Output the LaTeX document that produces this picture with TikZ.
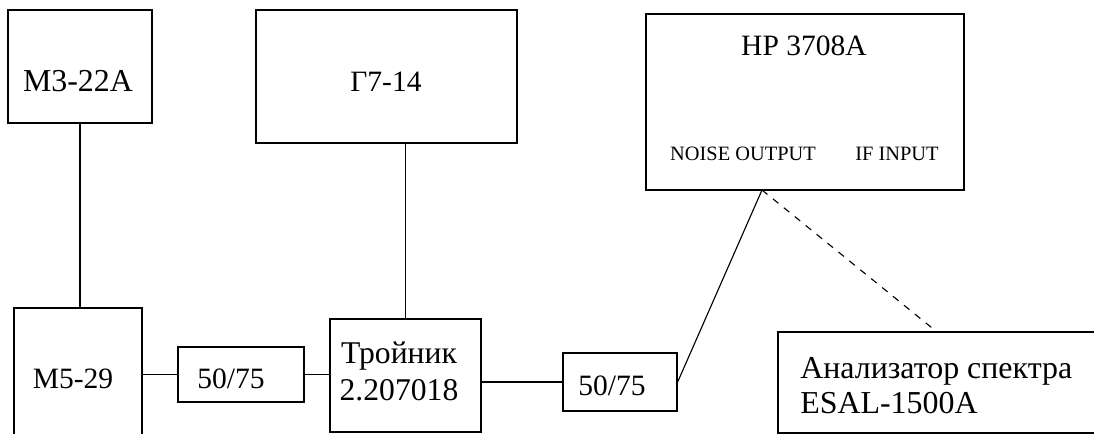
\documentclass[tikz,border=0pt]{standalone}
\usepackage{fontspec}
\setmainfont{Liberation Serif}
\usepackage{tikz}

\begin{document}
\begin{tikzpicture}[x=0.025cm,y=-0.025cm,
  box/.style={draw,line width=0.9pt,inner sep=0pt},
  big/.style={font=\fontsize{21}{26.3}\selectfont,inner sep=0pt},
  bigger/.style={font=\fontsize{22.7}{25.5}\selectfont,inner sep=0pt},
  small/.style={font=\fontsize{14.5}{17}\selectfont,inner sep=0pt}]
\useasboundingbox (0,0) rectangle (1094,434);
\clip (0,0) rectangle (1094,434);
% blocks
\node[box,minimum width=3.6cm,minimum height=2.825cm] (pm) at (80,66.5) {};
\node[box,minimum width=6.525cm,minimum height=3.325cm] (gen) at (386.5,76.5) {};
\node[box,minimum width=7.95cm,minimum height=4.4cm] (hp) at (805,102) {};
\node[box,minimum width=3.2cm,minimum height=3.8cm] (mount) at (78,384) {};
\node[box,minimum width=3.15cm,minimum height=1.375cm] (tr1) at (241,374.5) {};
\node[box,minimum width=3.775cm,minimum height=2.825cm] (tee) at (405.5,375.5) {};
\node[box,minimum width=2.85cm,minimum height=1.45cm] (tr2) at (620,382) {};
\node[box,minimum width=8.55cm,minimum height=2.525cm] (sa) at (949,382.5) {};
% labels
\node[bigger] (pmtext) at (78,81) {М3-22А};
\node[big] (gentext) at (386,82) {Г7-14};
\node[big] (hptext) at (804,46) {HP 3708A};
\node[small] (noise) at (743,154) {NOISE OUTPUT};
\node[small] (ifin) at (897,154) {IF INPUT};
\node[big] (mounttext) at (73,379) {М5-29};
\node[big] (tr1text) at (231,379) {50/75};
\node[bigger,align=center,font=\fontsize{22.5}{26.3}\selectfont] (teetext) at (399,371) {Тройник\\2.207018};
\node[big] (tr2text) at (612,386) {50/75};
\node[bigger,align=left,anchor=west,font=\fontsize{22.7}{25}\selectfont] (satext) at (800,386) {Анализатор спектра\\ESAL-1500A};
% connections
\coordinate (out) at (762,190);
\coordinate (sain) at (937,332);
\draw[line width=0.8pt] (pm.south) -- (pm.south |- mount.north);
\draw[line width=0.8pt] (tee.north) -- (tee.north |- gen.south);
\draw[line width=0.8pt] (tr1.west) -- (tr1.west -| mount.east);
\draw[line width=0.8pt] (tr1.east) -- (tr1.east -| tee.west);
\draw[line width=0.8pt] (tr2.west) -- (tr2.west -| tee.east);
\draw[line width=0.8pt] (tr2.east) -- (out);
\draw[line width=0.8pt,dash pattern=on 5pt off 5pt] (out) -- (sain);
\end{tikzpicture}
\end{document}
